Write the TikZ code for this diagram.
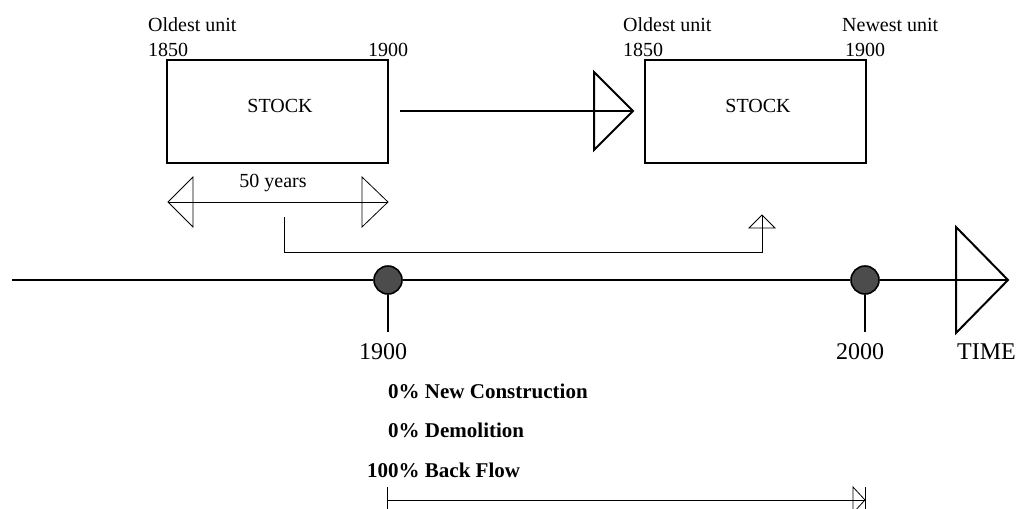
\documentclass[tikz,border=0pt]{standalone}
\usepackage{fontspec}
\setmainfont{Liberation Serif}
\tikzset{
  stockbox/.style={draw, line width=1.8pt, minimum width=221pt, minimum height=103pt, inner sep=0pt},
  toplabel/.style={font=\fontsize{20}{24}\selectfont, inner sep=0pt, anchor=base west},
  stocklabel/.style={font=\fontsize{20}{24}\selectfont, inner sep=0pt},
  bottomlabel/.style={font=\fontsize{24}{28}\selectfont, inner sep=0pt, anchor=base},
  boldlabel/.style={font=\fontsize{21}{25}\selectfont\bfseries, inner sep=0pt, anchor=base west},
  heavy/.style={line width=2pt},
  light/.style={line width=0.8pt},
  yeardot/.style={circle, draw, line width=1.6pt, fill=black!70, minimum size=28pt, inner sep=0pt},
}
\begin{document}
\begin{tikzpicture}[x=1pt,y=-1pt]
\clip (0,0) rectangle (1018,509);
\useasboundingbox (0,0) rectangle (1018,509);

% boxes
\node[stockbox] (box1) at (277.5,111.5) {};
\node[stocklabel] (s1) at (280,106) {STOCK};
\node[stockbox] (box2) at (755.5,111.5) {};
\node[stocklabel] (s2) at (758,106) {STOCK};

% top labels
\node[toplabel] (o1) at (148,31) {Oldest unit};
\node[toplabel] (y1850a) at (148,56) {1850};
\node[toplabel] (y1900a) at (368,56) {1900};
\node[toplabel] (o2) at (623,31) {Oldest unit};
\node[toplabel] (y1850b) at (623,56) {1850};
\node[toplabel] (n2) at (842,31) {Newest unit};
\node[toplabel] (y1900b) at (845,56) {1900};

% arrow between stocks
\coordinate (a1) at (400,111);
\coordinate (a2) at (633,111);
\draw[heavy] (a1) -- (a2);
\draw[heavy, line join=miter] (594,72) -- (a2) -- (594,150) -- cycle;

% 50 years
\coordinate (fy1) at (168,202);
\coordinate (fy2) at (388,202);
\node[stocklabel] (fifty) at (273,183) {50 years};
\draw[light] (fy1) -- (fy2);
\draw[light] (193,177) -- (fy1) -- (193,227) -- cycle;
\draw[light] (362,177) -- (fy2) -- (362,227) -- cycle;

% bracket arrow
\coordinate (b1) at (284,217);
\coordinate (b2) at (762,215);
\draw[light] (b1) -- (284,252) -- (762,252) -- (b2);
\draw[light] (749,228) -- (b2) -- (775,228) -- cycle;

% timeline
\node[yeardot] (d1) at (388,280) {};
\node[yeardot] (d2) at (865,280) {};
\coordinate (tstart) at (12,280);
\coordinate (ttip) at (1008,280);
\draw[heavy] (tstart) -- (d1.west);
\draw[heavy] (d1.east) -- (d2.west);
\draw[heavy] (d2.east) -- (ttip);
\draw[heavy, line join=miter] (956,227) -- (ttip) -- (956,333) -- cycle;
\coordinate (t1) at (388,332);
\coordinate (t2) at (865,332);
\draw[heavy] (d1.south) -- (t1);
\draw[heavy] (d2.south) -- (t2);

% bottom labels
\node[bottomlabel] (l1900) at (383,359) {1900};
\node[bottomlabel] (l2000) at (860,359) {2000};
\node[font=\fontsize{24}{28}\selectfont, inner sep=0pt, anchor=base west] (ltime) at (957,359) {TIME};

\node[boldlabel] (nc) at (388,398) {0\% New Construction};
\node[boldlabel] (dm) at (388,437) {0\% Demolition};
\node[boldlabel] (bf) at (367,477) {100\% Back Flow};

% bottom dimension arrow
\coordinate (e1) at (387,500);
\coordinate (e2) at (865,500);
\draw[light] (387,487) -- (387,512);
\draw[light] (e1) -- (e2);
\draw[light] (853,487) -- (e2) -- (853,513) -- cycle;
\draw[light] (865,487) -- (865,512);
\end{tikzpicture}
\end{document}
